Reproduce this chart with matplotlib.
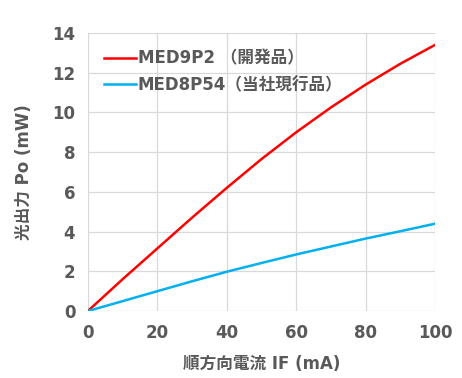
import matplotlib
matplotlib.use('Agg')
import matplotlib.pyplot as plt

plt.rcParams['font.family'] = ['DejaVu Sans', 'Noto Sans CJK JP']
plt.rcParams['font.weight'] = 'bold'

current = [0, 10, 20, 30, 40, 50, 60, 70, 80, 90, 100]  # IF (mA)
po_new = [0, 1.6, 3.15, 4.7, 6.2, 7.65, 9.0, 10.25, 11.4, 12.45, 13.4]  # MED9P2
po_old = [0, 0.5, 1.0, 1.5, 1.98, 2.42, 2.85, 3.25, 3.65, 4.02, 4.4]  # MED8P54

txt = '#595959'
fig = plt.figure(figsize=(4.62, 3.78), dpi=100)
ax = fig.add_axes([0.19, 0.177, 0.752, 0.736])

ax.plot(current, po_new, color='#ff0000', lw=1.8, label='MED9P2 （開発品）')
ax.plot(current, po_old, color='#00b0f0', lw=1.8, label='MED8P54（当社現行品）')

ax.set_xlim(0, 100)
ax.set_ylim(0, 14)
ax.set_xticks(range(0, 101, 20))
ax.set_yticks(range(0, 15, 2))
ax.grid(True, color='#d9d9d9', lw=0.9)
ax.set_axisbelow(True)
for s in ax.spines.values():
    s.set_visible(False)
ax.tick_params(length=0, labelsize=12, colors=txt, pad=9)
for lb in ax.get_xticklabels() + ax.get_yticklabels():
    lb.set_fontweight('bold')

ax.set_xlabel('順方向電流 IF (mA)', fontsize=12, color=txt, fontweight='bold', labelpad=10)
ax.set_ylabel('光出力 Po (mW)', fontsize=12, color=txt, fontweight='bold', labelpad=14)

leg = ax.legend(loc='upper left', frameon=False, fontsize=12, handlelength=1.9,
                handletextpad=0.1, labelspacing=0.5, borderaxespad=0.6,
                bbox_to_anchor=(0.0, 1.0))
for t in leg.get_texts():
    t.set_color(txt)
    t.set_fontweight('bold')

fig.savefig('out.png', dpi=100)
